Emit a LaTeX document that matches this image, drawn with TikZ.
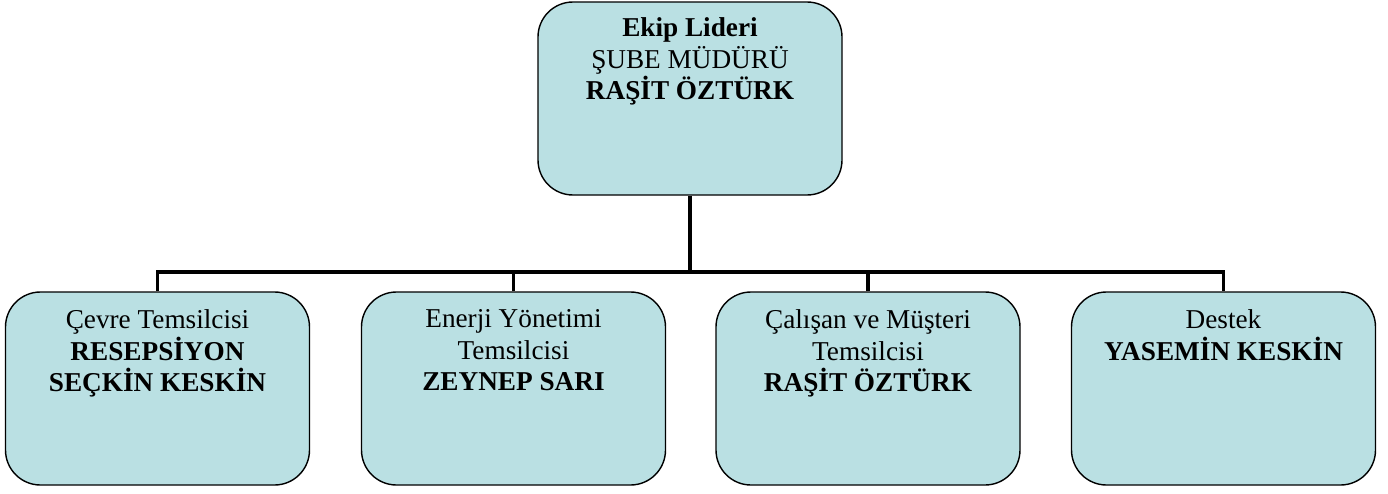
\documentclass[tikz,border=0pt]{standalone}
\usepackage{fontspec}
\setmainfont{Liberation Serif}
\usetikzlibrary{calc}
\definecolor{boxfill}{RGB}{186,224,227}
\tikzset{
	unitbox/.style={draw=black, line width=0.8pt, fill=boxfill, rounded corners=0.7cm,
		minimum width=6.08cm, minimum height=3.86cm, inner sep=0pt},
	unittext/.style={anchor=north, align=center, inner sep=0pt,
		font=\fontsize{15.5}{18}\selectfont},
	conn/.style={line width=1.8pt, line join=miter}
}

\begin{document}
\begin{tikzpicture}
			%%%%% START %%%%%
			
			\useasboundingbox (0, 0) rectangle (27.76, 9.86);
			
			\node[unitbox] (lead) at (13.8, 7.89) {};
			\node[unittext] (leadtxt) at ($(lead.north)+(0,-0.32)$) {\textbf{Ekip Lideri}\\ŞUBE MÜDÜRÜ\\\textbf{RAŞİT ÖZTÜRK}};
			
			\node[unitbox] (cevre) at (3.15, 2.09) {};
			\node[unittext] (cevretxt) at ($(cevre.north)+(0,-0.36)$) {Çevre Temsilcisi\\\textbf{RESEPSİYON}\\\textbf{SEÇKİN KESKİN}};
			
			\node[unitbox] (enerji) at (10.27, 2.09) {};
			\node[unittext] (enerjitxt) at ($(enerji.north)+(0,-0.36)$) {Enerji Yönetimi\\Temsilcisi\\\textbf{ZEYNEP SARI}};
			
			\node[unitbox] (calisan) at (17.36, 2.09) {};
			\node[unittext] (calisantxt) at ($(calisan.north)+(0,-0.36)$) {Çalışan ve Müşteri\\Temsilcisi\\\textbf{RAŞİT ÖZTÜRK}};
			
			\node[unitbox] (destek) at (24.47, 2.09) {};
			\node[unittext] (destektxt) at ($(destek.north)+(0,-0.36)$) {Destek\\\textbf{YASEMİN KESKİN}};
			
			\coordinate (bus) at (0, 4.42);
			
			\draw[conn] (lead.south) -- (lead.south |- bus);
			\draw[conn] (cevre.north) -- (cevre.north |- bus) -- (destek.north |- bus) -- (destek.north);
			\draw[conn] (enerji.north) -- (enerji.north |- bus);
			\draw[conn] (calisan.north) -- (calisan.north |- bus);
			
			%%%%% END %%%%%
		\end{tikzpicture}
\end{document}
